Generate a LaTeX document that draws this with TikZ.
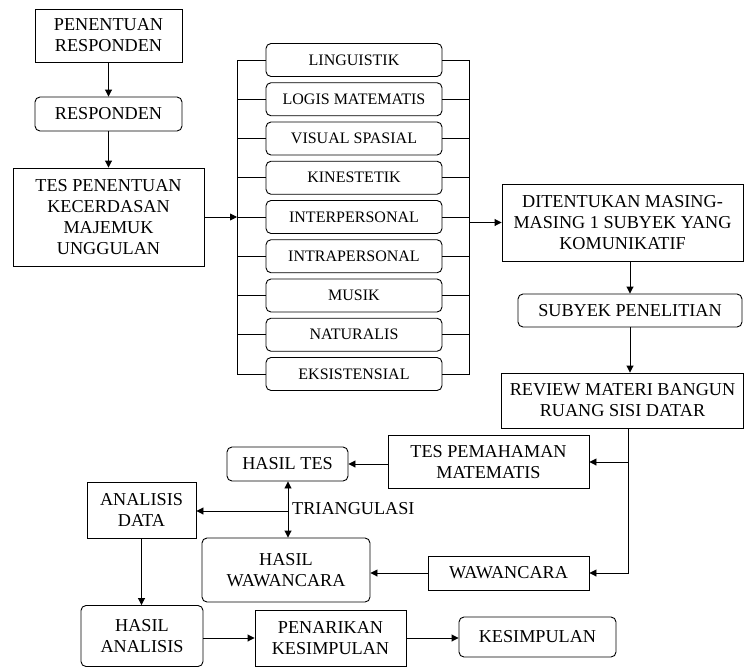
\documentclass[tikz,border=0pt]{standalone}
\usepackage{fontspec}
\setmainfont{Liberation Serif}
\usetikzlibrary{arrows.meta}
\tikzset{
  box/.style={draw, line width=0.9pt, align=center, inner sep=1pt, font=\fontsize{18.2}{21}\selectfont},
  rbox/.style={box, rounded corners=5pt},
  mbox/.style={draw, line width=0.9pt, rounded corners=5pt, minimum width=176pt, minimum height=33pt, inner sep=0pt, font=\fontsize{16}{18}\selectfont},
  conn/.style={line width=0.9pt},
  arr/.style={conn, -{Triangle[length=7pt,width=7pt]}},
  darr/.style={conn, {Triangle[length=7pt,width=7pt]}-{Triangle[length=7pt,width=7pt]}},
}
\begin{document}
\begin{tikzpicture}[x=1pt,y=-1pt]
\useasboundingbox (0,0) rectangle (745,667);
% left column
\node[box, minimum width=147pt, minimum height=53pt] (pr) at (108.5,35.5) {PENENTUAN\\RESPONDEN};
\node[rbox, minimum width=147pt, minimum height=34pt] (resp) at (108.5,114) {RESPONDEN};
\node[box, minimum width=191pt, minimum height=98pt] (tes) at (108.5,217) {TES PENENTUAN\\KECERDASAN\\MAJEMUK\\UNGGULAN};
\draw[arr] (pr.south) -- (resp.north);
\draw[arr] (resp.south) -- (tes.north);
% middle boxes
\foreach \t [count=\i] in {LINGUISTIK, LOGIS MATEMATIS, VISUAL SPASIAL, KINESTETIK, INTERPERSONAL, INTRAPERSONAL, MUSIK, NATURALIS, EKSISTENSIAL}
  \node[mbox] (m\i) at (354,{60+39.25*(\i-1)}) {\t};
\coordinate (lb) at (237,0);
\coordinate (rb) at (469,0);
\draw[conn] (m1.west) -- (m1.west -| lb) -- (m9.west -| lb) -- (m9.west);
\draw[conn] (m1.east) -- (m1.east -| rb) -- (m9.east -| rb) -- (m9.east);
\foreach \i in {2,...,8} {
  \draw[conn] (m\i.west) -- (m\i.west -| lb);
  \draw[conn] (m\i.east) -- (m\i.east -| rb);
}
\draw[arr] (tes.east) -- (tes.east -| lb);
% right column
\node[box, minimum width=241pt, minimum height=77pt] (dit) at (622.5,222.5) {DITENTUKAN MASING-\\MASING 1 SUBYEK YANG\\KOMUNIKATIF};
\node[rbox, minimum width=224pt, minimum height=33pt] (subj) at (630,310.5) {SUBYEK PENELITIAN};
\node[box, minimum width=242pt, minimum height=55pt] (rev) at (622.5,400.5) {REVIEW MATERI BANGUN\\RUANG SISI DATAR};
\draw[arr] (dit.west -| rb) -- (dit.west);
\draw[arr] (dit.south -| subj.center) -- (subj.north);
\draw[arr] (subj.south) -- (subj.south |- rev.north);
% lower part
\node[box, minimum width=201pt, minimum height=53pt] (tpm) at (488.5,462) {TES PEMAHAMAN\\MATEMATIS};
\node[box, minimum width=161pt, minimum height=34pt] (waw) at (508.5,573) {WAWANCARA};
\node[rbox, minimum width=121pt, minimum height=34pt] (ht) at (287.5,464) {HASIL TES};
\node[box, minimum width=109pt, minimum height=56pt] (ad) at (141.5,510) {ANALISIS\\DATA};
\node[rbox, minimum width=168pt, minimum height=64pt] (hw) at (286,570) {HASIL\\WAWANCARA};
\node[rbox, minimum width=122pt, minimum height=61pt] (ha) at (142,636) {HASIL\\ANALISIS};
\node[box, minimum width=151pt, minimum height=56pt] (pk) at (330.5,638) {PENARIKAN\\KESIMPULAN};
\node[rbox, minimum width=157pt, minimum height=40pt] (kes) at (537.5,637) {KESIMPULAN};
\coordinate (vx) at (628,0);
\draw[arr] (rev.south -| vx) |- (waw.east);
\draw[arr] (tpm.east -| vx) -- (tpm.east);
\draw[arr] (ht.east -| tpm.west) -- (ht.east);
\draw[arr] (waw.west) -- (waw.west -| hw.east);
\coordinate (tj) at (288,511);
\draw[darr] (ht.south -| tj) -- (hw.north -| tj);
\draw[arr] (tj) -- (tj -| ad.east);
\node[anchor=west, inner sep=0pt, font=\fontsize{18.2}{21}\selectfont] (tri) at (292,509) {TRIANGULASI};
\draw[arr] (ad.south) -- (ad.south |- ha.north);
\draw[arr] (pk.west -| ha.east) -- (pk.west);
\draw[arr] (pk.east) -- (pk.east -| kes.west);
\end{tikzpicture}
\end{document}
